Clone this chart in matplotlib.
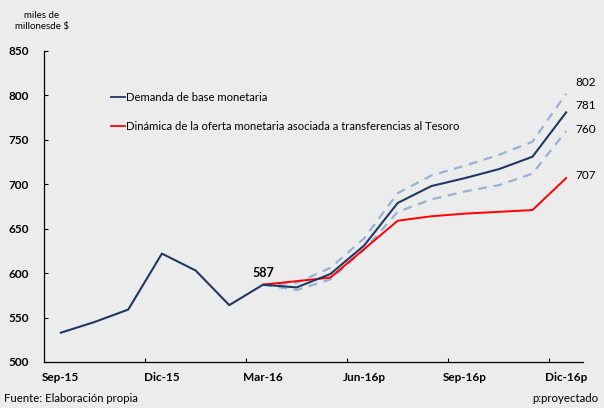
import matplotlib
matplotlib.use("Agg")
import matplotlib.pyplot as plt
from matplotlib.lines import Line2D

plt.rcParams['font.family'] = ['Lato', 'DejaVu Sans']

# meses (sep-15 a dic-16)
meses = ["Sep-15", "Oct-15", "Nov-15", "Dic-15", "Ene-16", "Feb-16", "Mar-16",
         "Abr-16p", "May-16p", "Jun-16p", "Jul-16p", "Ago-16p", "Sep-16p",
         "Oct-16p", "Nov-16p", "Dic-16p"]

# demanda de base monetaria (historico + proyeccion)
demanda = [533, 545, 559, 622, 603, 564, 587, 584, 599, 631, 679, 698, 707, 717, 731, 781]

# banda de proyeccion (desde mar-16)
banda_sup = [587, 589, 606, 639, 690, 710, 721, 733, 748, 802]
banda_inf = [587, 581, 593, 626, 669, 683, 692, 699, 712, 760]

# oferta asociada a transferencias al Tesoro (desde mar-16)
oferta = [587, 591, 595, 627, 659, 664, 667, 669, 671, 707]

etiquetas_x = ["Sep-15", "Dic-15", "Mar-16", "Jun-16p", "Sep-16p", "Dic-16p"]

fondo = "#ececec"
azul = "#1f3864"
rojo = "#ff0000"
celeste = "#95b3d7"

fig = plt.figure(figsize=(6.04, 4.08), dpi=100, facecolor=fondo)
ax = fig.add_axes([44/604, 1-362/408, 539/604, 311/408], facecolor=fondo)

x = list(range(len(meses)))
xp = x[6:]

ax.plot(xp, banda_sup, color=celeste, lw=1.6, dashes=(4, 3))
ax.plot(xp, banda_inf, color=celeste, lw=1.6, dashes=(4, 3))
ax.plot(xp, oferta, color=rojo, lw=1.4)
ax.plot(x, demanda, color=azul, lw=1.5)

ax.set_xlim(-0.5, len(meses) - 0.5)
ax.set_ylim(500, 850)

# ejes estilo excel
for s in ["top", "right"]:
    ax.spines[s].set_visible(False)
for s in ["left", "bottom"]:
    ax.spines[s].set_linewidth(0.9)

ax.set_yticks(range(500, 851, 50))
ax.tick_params(axis="y", direction="in", length=3, width=0.8, labelsize=8.5, pad=11)
for lab in ax.get_yticklabels():
    lab.set_fontweight("bold")

ax.set_xticks([0, 3, 6, 9, 12, 15])
ax.set_xticklabels(etiquetas_x, fontsize=8.5, fontweight="bold")
ax.tick_params(axis="x", length=0, pad=7)
ax.set_xticks([2.5, 5.5, 8.5, 11.5, 14.5], minor=True)
ax.tick_params(axis="x", which="minor", direction="in", length=3, width=0.8)

# valores
ax.text(6, demanda[6] + 6, str(demanda[6]), ha="center", va="bottom",
        fontsize=9, fontweight="bold")
finales = [banda_sup[-1], demanda[-1], banda_inf[-1], oferta[-1]]
desplaz = [13, 8, 2, 3]
for v, d in zip(finales, desplaz):
    ax.text(len(meses) - 0.72, v + d, str(v), ha="left", va="center", fontsize=8.5,
            clip_on=False)

handles = [Line2D([0], [0], color=azul, lw=1.3),
           Line2D([0], [0], color=rojo, lw=1.3)]
ax.legend(handles, ["Demanda de base monetaria",
                    "Dinámica de la oferta monetaria asociada a transferencias al Tesoro"],
          loc="upper left", bbox_to_anchor=(0.105, 0.9), frameon=False,
          fontsize=8.1, handlelength=1.25, handletextpad=0.1, labelspacing=1.55)

fig.text(42/604, 1-21/408, "miles de\nmillonesde $", ha="center", va="center",
         fontsize=7, linespacing=1.25)
fig.text(4/604, 1-399/408, "Fuente: Elaboración propia", ha="left", va="center", fontsize=8.2)
fig.text(598/604, 1-399/408, "p:proyectado", ha="right", va="center", fontsize=8.2)

fig.savefig("out.png", dpi=100, facecolor=fondo)
